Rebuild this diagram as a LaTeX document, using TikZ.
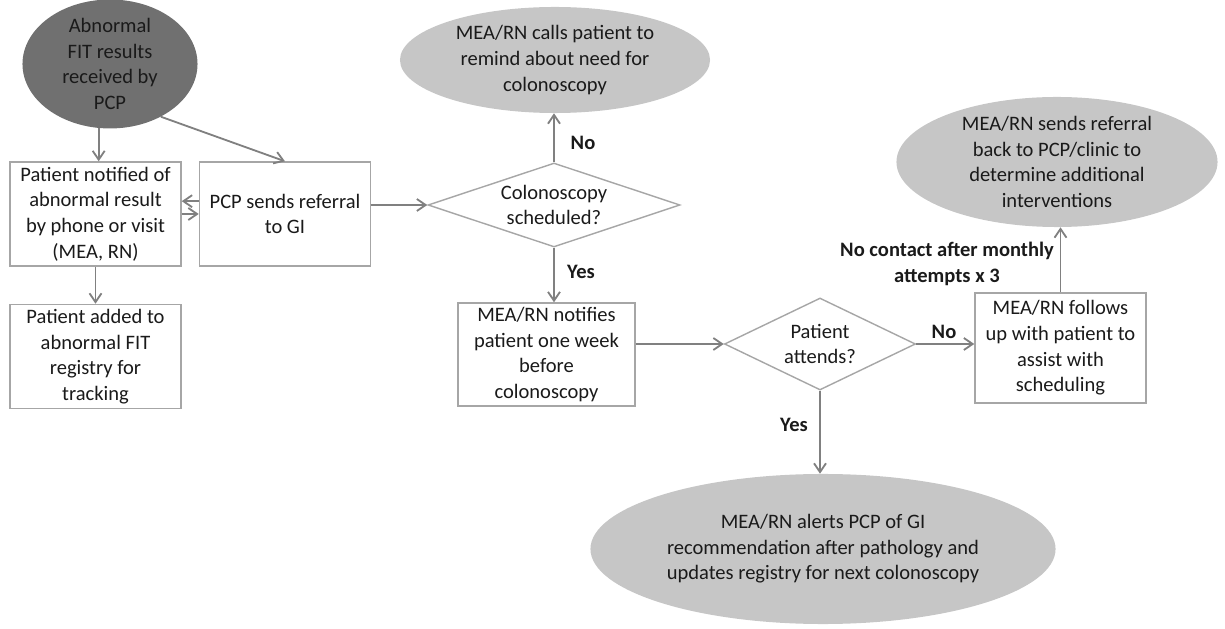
\documentclass[tikz,border=0pt]{standalone}
\usepackage{fontspec}
\setmainfont{Carlito}
\usetikzlibrary{arrows.meta,positioning,shapes.geometric,calc}
\definecolor{cline}{HTML}{808080}
\definecolor{cborder}{HTML}{A6A6A6}
\definecolor{cdark}{HTML}{707070}
\definecolor{clight}{HTML}{C6C6C6}
\definecolor{ctext}{HTML}{1A1A1A}

\begin{document}
\begin{tikzpicture}[
    x=0.025cm, y=-0.025cm,
    >={Straight Barb[length=2.2mm,width=3mm]},
    font=\fontsize{14.6}{18.2}\selectfont,
    procbox/.style={
        rectangle, draw=cborder, line width=1pt, fill=white,
        minimum width=4.275cm, minimum height=2.6cm,
        align=center, text=ctext, inner sep=2pt,
    },
    endoval/.style={
        ellipse, fill=#1,
        align=center, text=ctext, inner sep=0pt,
    },
    decide/.style={
        diamond, draw=cborder, line width=1pt, fill=white,
        align=center, text=ctext, inner sep=0pt, aspect=2.5,
    },
    flow/.style={->,line width=1.3pt,cline},
    yesno/.style={font=\fontsize{14.6}{18.2}\selectfont\bfseries,text=ctext},
]
\useasboundingbox (0,0) rectangle (1225,629);

% ============================================================
% LEFT: result received, notification, registry
% ============================================================
\node[endoval=cdark, minimum width=4.375cm, minimum height=2.875cm] (fit) at (110,64) {
    Abnormal\\FIT results\\received by\\PCP
};

\node[procbox] (notif) at (95.5,214) {
    Patient notified of\\abnormal result\\by phone or visit\\(MEA, RN)
};

\node[procbox, right=0.425cm of notif] (refer) {
    PCP sends referral\\to GI
};

\node[procbox, below=0.925cm of notif] (track) {
    Patient added to\\abnormal FIT\\registry for\\tracking
};

% ============================================================
% MIDDLE: scheduling decision
% ============================================================
\node[decide, minimum width=6.3cm, minimum height=2.1cm] (sched) at (554,205) {
    Colonoscopy\\scheduled?
};

\node[endoval=clight, minimum width=7.75cm, minimum height=2.65cm] (remind) at (555,60) {
    MEA/RN calls patient to\\remind about need for\\colonoscopy
};

\node[procbox, minimum width=4.425cm, minimum height=2.575cm] (prenote) at (546.5,354.5) {
    MEA/RN notifies\\patient one week\\before\\colonoscopy
};

% ============================================================
% RIGHT: attendance decision
% ============================================================
\node[decide, minimum width=4.775cm, minimum height=2.3cm] (attend) at (820,344) {
    Patient\\attends?
};

\node[procbox, minimum height=2.75cm] (follow) at (1060.5,348) {
    MEA/RN follows\\up with patient to\\assist with\\scheduling
};

\node[endoval=clight, minimum width=8.025cm, minimum height=3.25cm] (back) at (1057,162) {
    MEA/RN sends referral\\back to PCP/clinic to\\determine additional\\interventions
};

\node[endoval=clight, minimum width=11.625cm, minimum height=3.75cm] (alert) at (823,549) {
    MEA/RN alerts PCP of GI\\recommendation after pathology and\\updates registry for next colonoscopy
};

% ============================================================
% ARROWS
% ============================================================
\draw[flow] (fit.260) -- (fit.260 |- notif.north);
\draw[flow] (fit.-46) -- (refer.north);
\draw[flow] ([yshift=0.32cm]refer.west) -- ([yshift=0.32cm]notif.east);
\draw[flow] (notif.east) -- (refer.west);
\draw[flow] (notif) -- (track);
\draw[flow] (refer.east |- sched.west) -- (sched.west);

\draw[flow] (sched.north) -- (sched.north |- remind.south);
\draw[flow] (sched.south) -- (sched.south |- prenote.north);
\draw[flow] (prenote.east |- attend.west) -- (attend.west);

\draw[flow] (attend.east) -- (follow.west |- attend.east);
\draw[flow] (follow.north) -- (follow.north |- back.south);
\draw[flow] (attend.south) -- (attend.south |- alert.north);

% branch labels
\node[yesno] (no1) at (583,143) {No};
\node[yesno] (yes1) at (581,272) {Yes};
\node[yesno] (no2) at (944,332) {No};
\node[yesno] (yes2) at (794,425) {Yes};
\node[yesno, align=center] (nocontact) at (947,264) {
    No contact after monthly\\attempts x 3
};

\end{tikzpicture}
\end{document}
